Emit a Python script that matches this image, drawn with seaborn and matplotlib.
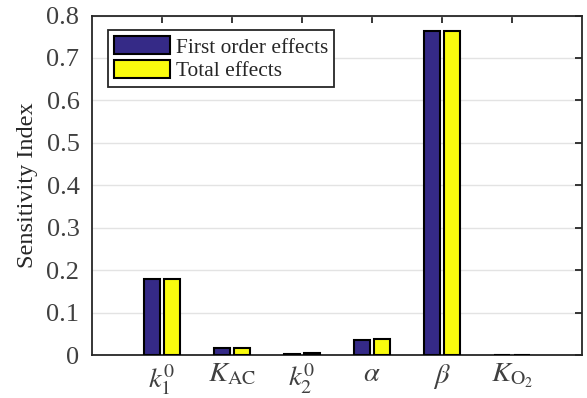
import matplotlib
matplotlib.use("Agg")
import matplotlib.pyplot as plt
import seaborn as sns
import pandas as pd

# Sensitivity indices per model parameter
params = [r"$k_1^0$", r"$K_{\mathrm{AC}}$", r"$k_2^0$", r"$\alpha$", r"$\beta$", r"$K_{\mathrm{O}_2}$"]
first_order = [0.178, 0.017, 0.003, 0.036, 0.763, 0.001]
total = [0.178, 0.016, 0.004, 0.038, 0.764, 0.001]
series_names = ["First order effects", "Total effects"]
yticks = [0, 0.1, 0.2, 0.3, 0.4, 0.5, 0.6, 0.7, 0.8]
ytick_labels = ["0", "0.1", "0.2", "0.3", "0.4", "0.5", "0.6", "0.7", "0.8"]

df = pd.DataFrame({
    "param": params * 2,
    "value": first_order + total,
    "kind": [series_names[0]] * len(params) + [series_names[1]] * len(params),
})

sns.set_style("white")
plt.rcParams["font.family"] = ["Liberation Serif", "DejaVu Serif"]
plt.rcParams["mathtext.fontset"] = "stix"

fig = plt.figure(figsize=(5.87, 3.98), dpi=100)
ax = fig.add_axes([0.1567, 0.108, 0.8348, 0.853])

ax.grid(True, color="#e3e3e3", linewidth=1.0, zorder=0)
ax.set_axisbelow(True)

sns.barplot(data=df, x="param", y="value", hue="kind", order=params,
            hue_order=series_names, palette=["#352A87", "#F9FB0E"],
            saturation=1, width=0.58, gap=0.22, edgecolor="black",
            linewidth=1.5, ax=ax, zorder=3)

ax.set_xlim(-1, 6)
ax.set_ylim(0, 0.8)
ax.set_yticks(yticks)
ax.set_yticklabels(ytick_labels)
ax.set_xlabel("")
ax.set_ylabel("Sensitivity Index", fontsize=17.5, color="#262626", labelpad=6)

for s in ax.spines.values():
    s.set_visible(True)
    s.set_color("#262626")
    s.set_linewidth(1.3)

ax.tick_params(axis="both", direction="in", length=5, width=1.3, color="#262626",
               top=True, right=True, labelcolor="#404040")
ax.tick_params(axis="y", labelsize=19, pad=9)
ax.tick_params(axis="x", labelsize=20.5, pad=5)

handles, labels = ax.get_legend_handles_labels()
leg = ax.legend(handles, labels, loc="upper left", bbox_to_anchor=(0.033, 0.957),
                prop={"size": 15.4}, frameon=True, fancybox=False, framealpha=1,
                edgecolor="#262626", handlelength=2.6, handleheight=0.93,
                handletextpad=0.3, borderpad=0.28, labelspacing=0.1,
                borderaxespad=0)
leg.get_frame().set_linewidth(1.3)
for t in leg.get_texts():
    t.set_color("#262626")

fig.savefig("out.png", dpi=100)
